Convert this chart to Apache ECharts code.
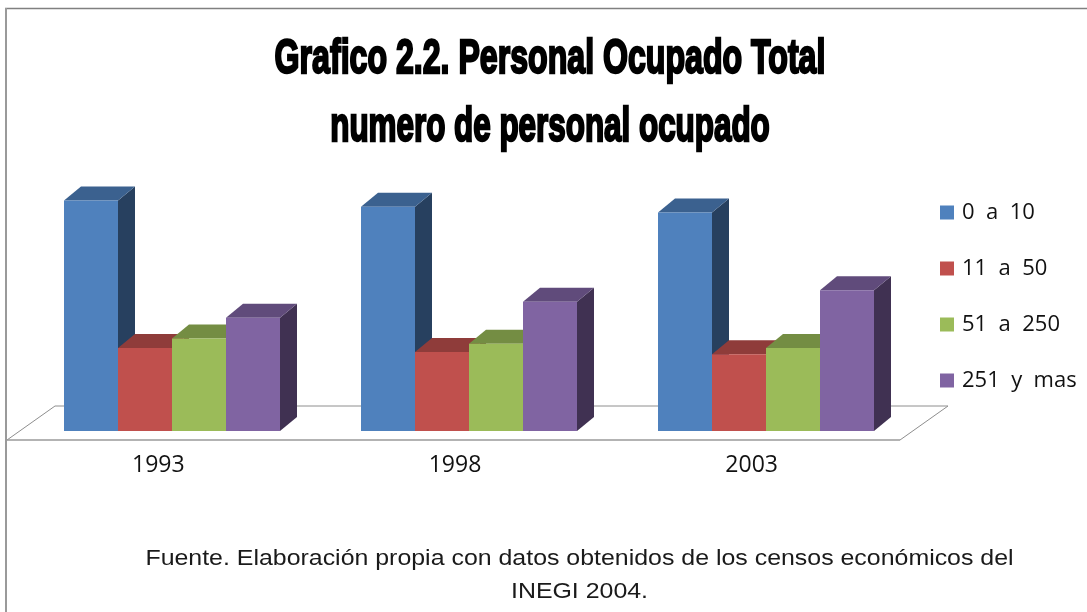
<!DOCTYPE html>
<html>
<head>
<meta charset="utf-8">
<style>html,body{margin:0;padding:0;background:#fff}#c{width:1087px;height:612px}</style>
<script src="https://cdn.jsdelivr.net/npm/echarts@6/dist/echarts.min.js"></script>
</head>
<body>
<div id="c"></div>
<script>
const categories = ['1993', '1998', '2003'];
const seriesNames = ['0 a 10', '11 a 50', '51 a 250', '251 y mas'];
const values0a10 = [44.4, 43.2, 42.1];
const values11a50 = [16.0, 15.2, 14.8];
const values51a250 = [17.8, 16.8, 16.0];
const values251 = [21.8, 24.9, 27.1];
const seriesValues = [values0a10, values11a50, values51a250, values251];
const titleLines = ['Grafico 2.2. Personal Ocupado Total', 'numero de personal ocupado'];
const sourceLines = ['Fuente. Elaboración propia con datos obtenidos de los censos económicos del', 'INEGI 2004.'];

const frontColors = ['#4F81BD', '#C0504D', '#9BBB59', '#8064A2'];
const topColors = ['#3B618F', '#8F3C3A', '#748D43', '#604B7B'];
const sideColors = ['#27405F', '#602826', '#4E5E2D', '#403152'];

const DEPTH_X = 17, DEPTH_Y = 14;      // box depth
const SHIFT_X = 14, SHIFT_Y = 9;       // offset of the bars inside the floor
const BAR_RATIO = 54 / 296.7;          // bar width as share of category band

function barItem(si) {
  return function (params, api) {
    const idx = api.value(0);
    const c = api.coord([idx, api.value(1)]);
    const base = api.coord([idx, 0]);
    const w = api.size([1, 0])[0] * BAR_RATIO;
    const x0 = Math.round(c[0] + SHIFT_X + (si - 2) * w);
    const x1 = Math.round(x0 + w);
    const yT = c[1] - SHIFT_Y;
    const yB = base[1] - SHIFT_Y;
    return {
      type: 'group',
      children: [
        { type: 'polygon', shape: { points: [[x1, yT], [x1 + DEPTH_X, yT - DEPTH_Y], [x1 + DEPTH_X, yB - DEPTH_Y], [x1, yB]] },
          style: { fill: sideColors[si] } },
        { type: 'polygon', shape: { points: [[x0, yT], [x0 + DEPTH_X, yT - DEPTH_Y], [x1 + DEPTH_X, yT - DEPTH_Y], [x1, yT]] },
          style: { fill: topColors[si] } },
        { type: 'rect', shape: { x: x0, y: yT, width: x1 - x0, height: yB - yT },
          style: { fill: frontColors[si] } }
      ]
    };
  };
}

function floorItem(params, api) {
  const g = params.coordSys;
  const yF = g.y + g.height;
  const xL = g.x - 3, xR = g.x + g.width;
  const dx = 48, dy = 34;
  const style = { stroke: '#8E8E8E', lineWidth: 1, fill: null };
  return {
    type: 'group',
    children: [
      { type: 'polyline', shape: { points: [[xL + dx, yF - dy], [xR + dx, yF - dy], [xR, yF]] }, style: style },
      { type: 'polyline', shape: { points: [[xL + dx, yF - dy], [xL, yF]] }, style: style },
      { type: 'line', shape: { x1: xL, y1: yF, x2: xR, y2: yF }, style: { stroke: '#9A9A9A', lineWidth: 1.5 } }
    ]
  };
}

const series = [{
  type: 'custom', name: '_floor', silent: true, renderItem: floorItem,
  data: [[0, 0]], encode: { x: 0, y: 1 }, z: 1
}].concat(seriesNames.map((name, si) => ({
  type: 'custom',
  name: name,
  renderItem: barItem(si),
  itemStyle: { color: frontColors[si] },
  data: categories.map((c, i) => [i, seriesValues[si][i]]),
  encode: { x: 0, y: 1 },
  z: 2 + si,
  silent: true
})));

const chart = echarts.init(document.getElementById('c'), null, { renderer: 'canvas' });

function titleText(text, y, sx) {
  return {
    type: 'text', x: 550, y: y, scaleX: sx, silent: true,
    style: { text: text, fill: '#000', stroke: '#000', lineWidth: 2.4, lineJoin: 'miter',
      font: 'bold 48px "Liberation Sans"', textAlign: 'center', textVerticalAlign: 'top' }
  };
}
function noteText(text, y) {
  return {
    type: 'text', x: 579.5, y: y, scaleX: 1.107, silent: true,
    style: { text: text, fill: '#1a1a1a', font: '22.5px "Liberation Sans"', textAlign: 'center', textVerticalAlign: 'middle' }
  };
}

chart.setOption({
  animation: false,
  backgroundColor: '#fff',
  grid: { left: 10, width: 890, top: 180.5, height: 259.5, containLabel: false },
  xAxis: {
    type: 'category', data: categories,
    axisLine: { show: false }, axisTick: { show: false },
    axisLabel: { color: '#111', fontFamily: 'Open Sans', fontSize: 23, margin: 14 }
  },
  yAxis: { type: 'value', min: 0, max: 50, show: false },
  legend: {
    orient: 'vertical', left: 940, top: 198, padding: 0,
    data: seriesNames, icon: 'rect',
    formatter: (n) => n.replace(/ /g, '  '),
    itemWidth: 14, itemHeight: 14, itemGap: 27, selectedMode: false,
    textStyle: { color: '#111', fontFamily: 'Open Sans', fontSize: 22, lineHeight: 29, padding: [0, 0, 0, 3] }
  },
  series: series,
  graphic: [
    { type: 'line', silent: true, shape: { x1: 5, y1: 8.5, x2: 1087, y2: 8.5 }, style: { stroke: '#808080', lineWidth: 1.5 } },
    { type: 'line', silent: true, shape: { x1: 6, y1: 8, x2: 6, y2: 612 }, style: { stroke: '#9a9a9a', lineWidth: 2 } },
    titleText(titleLines[0], 36, 0.669),
    titleText(titleLines[1], 104, 0.654),
    noteText(sourceLines[0], 559),
    noteText(sourceLines[1], 592)
  ]
});
</script>
</body>
</html>
